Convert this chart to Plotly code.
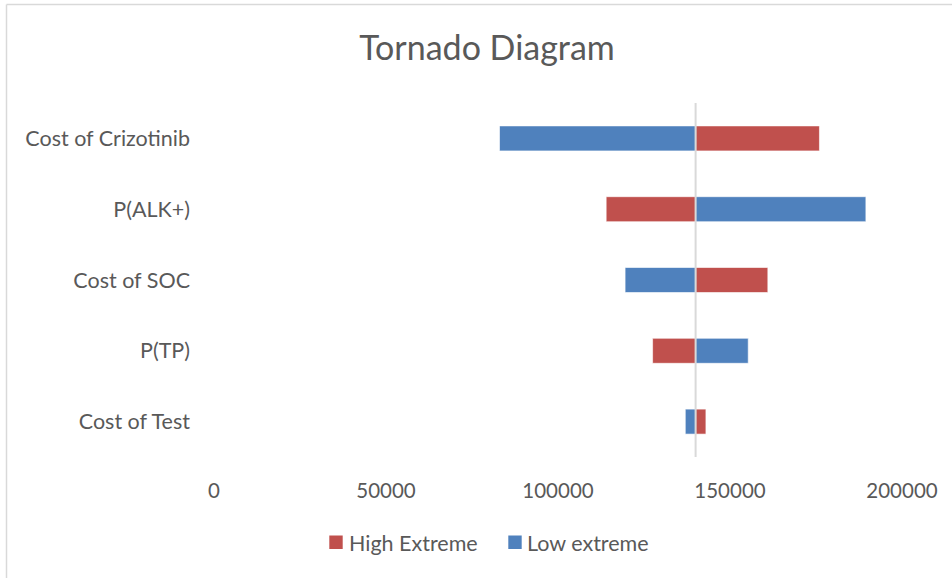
import plotly.graph_objects as go

categories = ["Cost of Crizotinib", "P(ALK+)", "Cost of SOC", "P(TP)", "Cost of Test"]
baseline = 140000
high_extreme = [176000, 114000, 161000, 127500, 143000]
low_extreme = [83000, 189500, 119500, 155300, 137000]
x_ticks = [0, 50000, 100000, 150000, 200000]
series_names = ["High Extreme", "Low extreme"]

RED = "#C0504D"
BLUE = "#4F81BD"
TXT = "#595959"
FRAME = "#D9D9D9"
FONT = "Lato"

W, H = 952, 578
ML, MR, MT, MB = 214, 50, 103, 121
PW, PH = W - ML - MR, H - MT - MB


def px_to_paper_x(px):
    return (px - ML) / PW


def px_to_paper_y(py):
    return 1 - (py - MT) / PH


fig = go.Figure()
fig.add_trace(go.Bar(
    name=series_names[0], y=categories,
    x=[v - baseline for v in high_extreme], base=baseline,
    orientation="h",
    marker=dict(color=RED, line=dict(color="rgba(255,255,255,0.6)", width=1)),
))
fig.add_trace(go.Bar(
    name=series_names[1], y=categories,
    x=[v - baseline for v in low_extreme], base=baseline,
    orientation="h",
    marker=dict(color=BLUE, line=dict(color="rgba(255,255,255,0.6)", width=1)),
))

shapes = [
    # vertical axis line at the baseline
    dict(type="line", xref="x", yref="paper", x0=baseline, x1=baseline, y0=0, y1=1,
         line=dict(color=FRAME, width=2), layer="above"),
    # chart frame (top and left edges)
    dict(type="line", xref="paper", yref="paper",
         x0=px_to_paper_x(6.5), x1=px_to_paper_x(1000),
         y0=px_to_paper_y(4.5), y1=px_to_paper_y(4.5),
         line=dict(color=FRAME, width=1.5)),
    dict(type="line", xref="paper", yref="paper",
         x0=px_to_paper_x(6.5), x1=px_to_paper_x(6.5),
         y0=px_to_paper_y(4.5), y1=px_to_paper_y(640),
         line=dict(color=FRAME, width=1.5)),
]

# manual legend (squares + text)
legend_items = [
    (series_names[0], RED, 329.3, 349.3),
    (series_names[1], BLUE, 508.3, 527.3),
]
annotations = []
for name, color, sq_x, txt_x in legend_items:
    shapes.append(dict(type="rect", xref="paper", yref="paper",
                       x0=px_to_paper_x(sq_x), x1=px_to_paper_x(sq_x + 13.4),
                       y0=px_to_paper_y(549), y1=px_to_paper_y(535.5),
                       fillcolor=color, line=dict(width=0)))
    annotations.append(dict(text=name, xref="paper", yref="paper",
                            x=px_to_paper_x(txt_x - 1), xanchor="left",
                            y=px_to_paper_y(542.5), yanchor="middle",
                            showarrow=False, borderpad=0,
                            font=dict(family=FONT, size=21.5, color=TXT)))

fig.update_layout(
    width=W, height=H,
    margin=dict(l=ML, r=MR, t=MT, b=MB, autoexpand=False),
    paper_bgcolor="white", plot_bgcolor="white",
    barmode="overlay", bargap=0.647,
    font=dict(family=FONT, color=TXT, size=20),
    title=dict(text="Tornado Diagram", x=487 / W, xanchor="center",
               y=1 - 48.5 / H, yanchor="middle",
               font=dict(family=FONT, size=34, color=TXT)),
    xaxis=dict(range=[0, 200000], tickvals=x_ticks, ticktext=[str(v) for v in x_ticks],
               showgrid=False, zeroline=False, showline=False, ticks="",
               ticklabelstandoff=19, tickfont=dict(family=FONT, size=20.5, color=TXT)),
    yaxis=dict(categoryorder="array", categoryarray=categories, autorange="reversed",
               showgrid=False, zeroline=False, showline=False, ticks="",
               ticklabelstandoff=23, tickfont=dict(family=FONT, size=21.5, color=TXT)),
    showlegend=False,
    shapes=shapes,
    annotations=annotations,
)

fig.write_html("out.html", config={"displayModeBar": False},
               post_script="document.body.style.margin='0';")
